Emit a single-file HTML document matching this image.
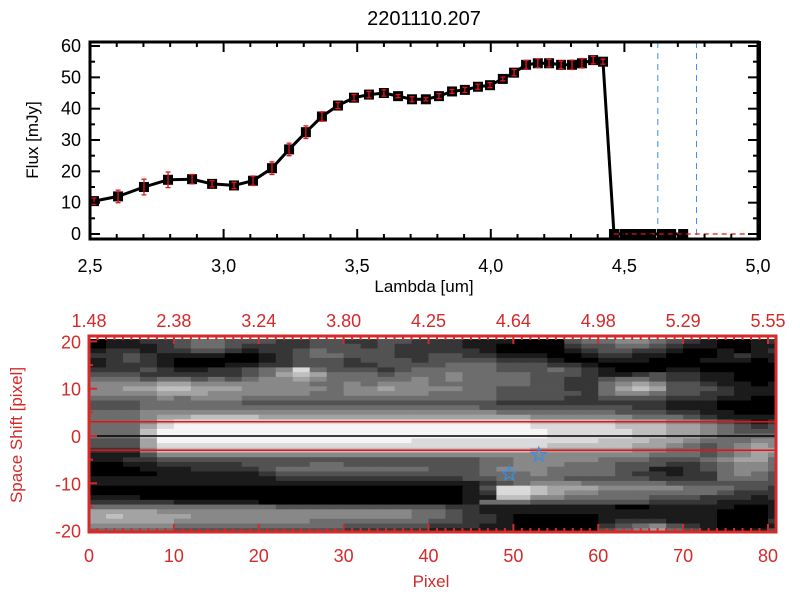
<!DOCTYPE html>
<html><head><meta charset="utf-8"><style>
html,body{margin:0;padding:0;background:#fff}
svg{display:block;font-family:"Liberation Sans",sans-serif}
</style></head><body>
<svg id="c" width="800" height="600" viewBox="0 0 800 600">
<text x="424" y="25" font-size="20" text-anchor="middle">2201110.207</text>
<g id="top"></g>
<g id="bot"></g>
</svg>
<script>
const lam=[2.515,2.605,2.702,2.792,2.882,2.957,3.039,3.110,3.181,3.245,3.308,3.368,3.428,3.488,3.544,3.600,3.653,3.705,3.757,3.806,3.855,3.903,3.952,3.997,4.045,4.087,4.132,4.176,4.218,4.263,4.304,4.341,4.383,4.420,4.461,4.500,4.535,4.565,4.600,4.640,4.675,4.720];
const flux=[10.5,12,15,17.3,17.5,16,15.5,17,21,27,32.5,37.5,41,43.5,44.5,45,44,43,43,44,45.5,46,47,47.5,49.5,51.5,54,54.5,54.5,54,54,54.5,55.5,55,0,0,0,0,0,0,0,0];
const ferr=[1,2,2.5,2.5,1.5,1,1,1.5,2,2,2,1.5,1,1,1,1,0.5,0.8,0.5,0.8,0.6,0.8,0.8,0.8,0.6,1,1.4,1.4,1.2,1.2,1.5,1.5,1.2,0.8,0,0,0,0,0,0,0,0];
const xTicks=["2,5","3,0","3,5","4,0","4,5","5,0"];
const yTicks=["0","10","20","30","40","50","60"];
const vLines=[4.625,4.77];
const topLabels=["1.48","2.38","3.24","3.80","4.25","4.64","4.98","5.29","5.55"];
const pixTicks=["0","10","20","30","40","50","60","70","80"];
const shiftTicks=["20","10","0","-10","-20"];
const stars=[[49.5,-8],[53,-4]];
const img=[
"01122344333223322332221110003445543210012",
"01112344322223332322221100002334432110011",
"12212233212234333322222100001233221001012",
"22321111001234433322332211100122110001211",
"12321000001233323332333322210011100011101",
"12221000112233322333344433322100000000000",
"22232112234584333234444433343210001100000",
"33322222234676444344454444333211232211000",
"44434434345565444445454444332234432211000",
"55556655555554454555444444332245653321101",
"55667766655555455655554433332246763332111",
"55556665555554455555444433333245543322111",
"44445455544444444444444433332233332221100",
"33344444433333333333333322222222221110000",
"33344444444444444444444333333333221110000",
"44455555555555555555555544444443332211000",
"44456677776666666666666666555555444321111",
"44457888888888888888888888777776665543212",
"44468999999999999999999999888887776654323",
"44479999999999999999999999988888776654333",
"44479999999999999999999999988888776654444",
"33369999999999999998888888888877766544455",
"33368888888888888888888888877777665434565",
"22257777777777777777777777666666554434566",
"11135555555555555555555555555555544434565",
"11223333333333333333333445555544433345664",
"00112222233334433333333445554443332234554",
"00011122223444444444333455544443311234554",
"00001111112333333333333444544443221224543",
"11111111111222222222223344443333322224443",
"11111111111111111111111234555444443333333",
"00000000000000000000001388766655555444332",
"00000000000000000000001288765544444443222",
"11100000000000000000001177554444433322212",
"22222111110000000000001444333333322221111",
"44444444444333333333322111111110011111001",
"66665555555555555554432111111111111110001",
"67666655555555555554432210000011111110001",
"66666555555554444444332210000012221110002",
"55555444444444433333222110000023453210001",
"44444333333333322222111110000034564310013"];
const NS='http://www.w3.org/2000/svg';
function mk(p,t,a,txt){const e=document.createElementNS(NS,t);for(const k in a)e.setAttribute(k,a[k]);if(txt!==undefined)e.textContent=txt;p.appendChild(e);return e;}
const T=document.getElementById('top');
const L=90,R=758,TT=42,TB=239;
const sx=v=>L+(v-2.5)/2.5*(R-L);
const sy=v=>234-v*3.133;
vLines.forEach(v=>{const e=mk(T,'line',{x1:sx(v),x2:sx(v),y1:TT,y2:TB,stroke:'#3a8ee0','stroke-width':1,'stroke-dasharray':'6,5'});

});
let d='';lam.forEach((l,i)=>{d+=(i?'L':'M')+sx(l).toFixed(1)+','+sy(flux[i]).toFixed(1);});
const ln=mk(T,'path',{d:d,fill:'none',stroke:'#000','stroke-width':3,'stroke-linejoin':'round'});


lam.forEach((l,i)=>{const x=sx(l),y=sy(flux[i]);
const r=mk(T,'rect',{x:x-5,y:y-5,width:10,height:10,fill:'#000'});


if(ferr[i]>0){const y1=sy(flux[i]+ferr[i]),y2=sy(flux[i]-ferr[i]);
const g=mk(T,'path',{d:`M${x},${y1}L${x},${y2}M${x-2.5},${y1}L${x+2.5},${y1}M${x-2.5},${y2}L${x+2.5},${y2}`,stroke:'#e8141c','stroke-width':1.3,fill:'none'});

}});
const zl=mk(T,'line',{x1:sx(4.46),x2:R,y1:sy(0),y2:sy(0),stroke:'#e8141c','stroke-width':1.3,'stroke-dasharray':'5,4'});


const fr=mk(T,'rect',{x:L,y:TT,width:R-L,height:TB-TT,fill:'none',stroke:'#000','stroke-width':3});


mk(T,'line',{x1:R+1,x2:R+1,y1:TT-1,y2:TB+1,stroke:'#000','stroke-width':4});
for(let k=0;k<=25;k++){const x=sx(2.5+k*0.1),len=k%5==0?10:5;
mk(T,'line',{x1:x,x2:x,y1:TB,y2:TB-len,stroke:'#000','stroke-width':2});
mk(T,'line',{x1:x,x2:x,y1:TT,y2:TT+len,stroke:'#000','stroke-width':2});}
for(let v=0;v<=60;v+=5){const y=sy(v),len=v%10==0?10:5;
mk(T,'line',{x1:L,x2:L+len,y1:y,y2:y,stroke:'#000','stroke-width':2});
mk(T,'line',{x1:R,x2:R-len,y1:y,y2:y,stroke:'#000','stroke-width':2});}
xTicks.forEach((t,i)=>{const e=mk(T,'text',{x:sx(2.5+i*0.5),y:272,'font-size':18,'text-anchor':'middle'},t);

});
yTicks.forEach((t,i)=>{const e=mk(T,'text',{x:81,y:sy(i*10)+6,'font-size':18,'text-anchor':'end'},t);

});
let e1=mk(T,'text',{x:424,y:292,'font-size':17,'text-anchor':'middle'},'Lambda [um]');


e1=mk(T,'text',{x:0,y:0,'font-size':17,'text-anchor':'middle',transform:'translate(38,140) rotate(-90)'},'Flux [mJy]');


const B=document.getElementById('bot');
const RED='#d42a2a';
const BL=89,BR=776,PXW=(768-89)/80;
const px=v=>89+v*PXW;
const ry=v=>436-v*4.73;
img.forEach((row,ri)=>{const v=20-ri;
for(let c=0;c<row.length;c++){const g=Math.round(+row[c]/9*245);
const w=(c==row.length-1?1:2)*PXW;
const r=mk(B,'rect',{x:px(c*2).toFixed(2),y:(ry(v)-2.37).toFixed(2),width:(w+0.4).toFixed(2),height:5.1,fill:`rgb(${g},${g},${g})`});

}});
mk(B,'line',{x1:BL,x2:BR,y1:ry(0),y2:ry(0),stroke:'#000','stroke-width':1.5});
[3,-3].forEach(v=>{const e=mk(B,'line',{x1:BL,x2:BR,y1:ry(v),y2:ry(v),stroke:'#ee1010','stroke-width':1.5});

});
stars.forEach(s=>{const cx=px(s[0]),cy=ry(s[1]);let p='';
for(let k=0;k<10;k++){const a=-Math.PI/2+k*Math.PI/5,r=k%2?3:7.5;p+=(cx+r*Math.cos(a)).toFixed(1)+','+(cy+r*Math.sin(a)).toFixed(1)+' ';}
const e=mk(B,'polygon',{points:p,fill:'none',stroke:'#3a8ee0','stroke-width':1.2});

});
const bf=mk(B,'rect',{x:BL,y:336,width:BR-BL,height:196,fill:'none',stroke:RED,'stroke-width':3});


for(let k=0;k<=80;k++){const x=px(k),len=k%10==0?8:4;
mk(B,'line',{x1:x,x2:x,y1:532,y2:532-len,stroke:RED,'stroke-width':2});
mk(B,'line',{x1:x,x2:x,y1:336,y2:336+len,stroke:RED,'stroke-width':2});}
for(let v=-20;v<=20;v+=5){mk(B,'line',{x1:BL,x2:BL+(v%10==0?8:4),y1:ry(v),y2:ry(v),stroke:RED,'stroke-width':2});}
topLabels.forEach((t,i)=>{const e=mk(B,'text',{x:px(i*10),y:327,'font-size':18,'text-anchor':'middle',fill:RED},t);

});
pixTicks.forEach((t,i)=>{const e=mk(B,'text',{x:px(i*10),y:562,'font-size':18,'text-anchor':'middle',fill:RED},t);

});
shiftTicks.forEach((t,i)=>{const e=mk(B,'text',{x:81,y:ry(20-i*10)+7,'font-size':18,'text-anchor':'end',fill:RED},t);

});
e1=mk(B,'text',{x:431,y:587,'font-size':17,'text-anchor':'middle',fill:RED},'Pixel');


e1=mk(B,'text',{x:0,y:0,'font-size':17,'text-anchor':'middle',fill:RED,transform:'translate(22,435) rotate(-90)'},'Space Shift [pixel]');


</script>
</body></html>
